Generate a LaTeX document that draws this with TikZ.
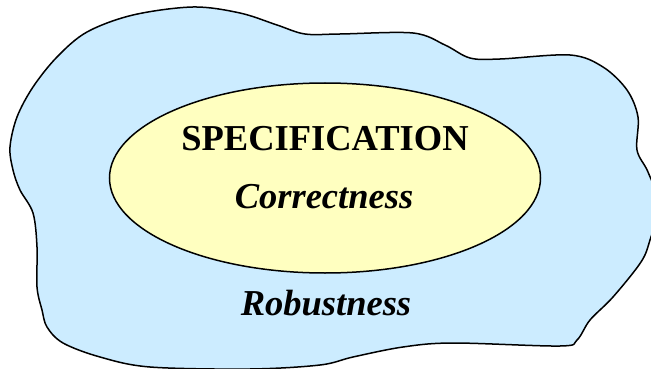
\documentclass[tikz,border=0pt]{standalone}
\usepackage{fontspec}
\setmainfont{Liberation Serif}
\usetikzlibrary{shapes.geometric}
\definecolor{figBleuFond}{RGB}{204,236,255}
\definecolor{figJauneFond}{RGB}{255,255,192}

\begin{document}
\begin{tikzpicture}[
  x=1pt, y=-1pt,
  nuage/.style={draw=black, line width=1.5pt, fill=figBleuFond},
  noyau/.style={ellipse, draw=black, line width=1.5pt, fill=figJauneFond,
                minimum width=431pt, minimum height=190pt, inner sep=0pt},
  ttl/.style={font=\fontsize{36.5}{40}\selectfont\bfseries, anchor=base, inner sep=0pt},
  qual/.style={ttl, font=\fontsize{36.5}{40}\selectfont\bfseries\itshape}
]
\clip (0,0) rectangle (651,369);

% ---- zone exterieure : robustesse ----
\draw[nuage] plot[smooth cycle, tension=0.55] coordinates {
  (193,7) (240,13) (277,25) (305,34) (340,34) (413,33) (445,45) (470,58)
  (500,59) (570,55) (603,67) (627,90) (638,117) (637,150) (648,172) (659,205)
  (650,240) (641,262) (613,297) (590,320) (577,340) (560,346) (453,343)
  (403,347) (353,357) (320,365) (250,369) (150,367) (100,357) (63,343)
  (47,327) (42,310) (37,287) (37,247) (33,213) (20,190) (13,170) (10,147)
  (17,117) (33,87) (57,57) (87,32) (133,15)};

% ---- zone interieure : specification ----
\node[noyau] (spec) at (325,178) {};
\node[ttl]  (titre) at (325,150) {SPECIFICATION};
\node[qual] (corr)  at (324,208) {Correctness};
\node[qual] (rob)   at (326,315) {Robustness};

\end{tikzpicture}
\end{document}
